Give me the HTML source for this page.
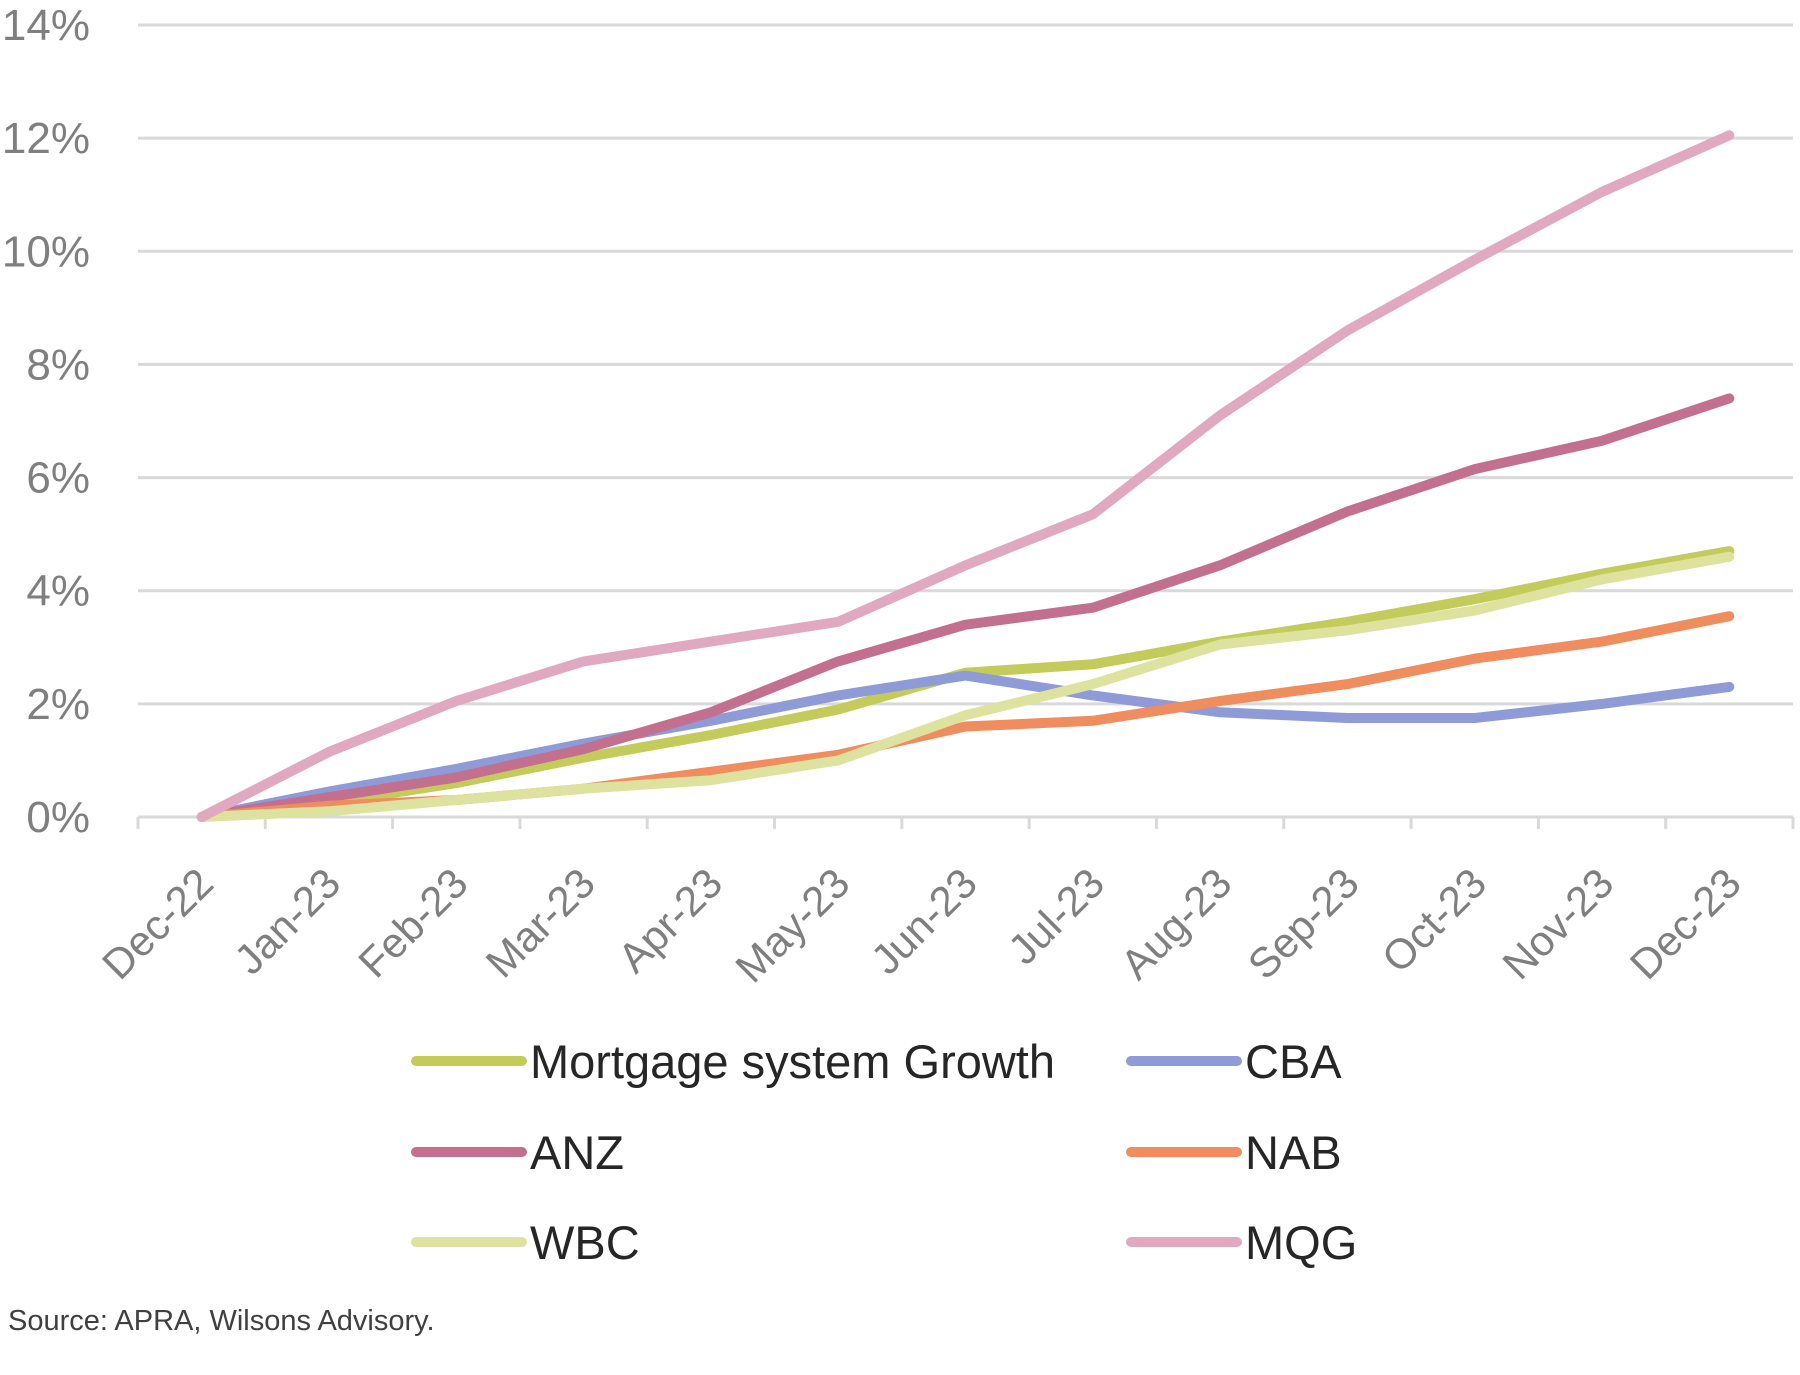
<!DOCTYPE html>
<html><head><meta charset="utf-8"><style>
html,body{margin:0;padding:0;background:#fff;}
svg text{font-family:"Liberation Sans",sans-serif;}
</style></head><body>
<svg id="chart" width="1800" height="1370" viewBox="0 0 1800 1370" xmlns="http://www.w3.org/2000/svg">
<g id="grid"></g>
<g id="yax"></g>
<g id="xax"></g>
<g id="series"></g>
<g id="legend"></g>
<text x="8" y="1330" font-size="29" fill="#404040">Source: APRA, Wilsons Advisory.</text>
</svg>
<script>
const categories=["Dec-22","Jan-23","Feb-23","Mar-23","Apr-23","May-23","Jun-23","Jul-23","Aug-23","Sep-23","Oct-23","Nov-23","Dec-23"];
const yTicks=[0,2,4,6,8,10,12,14];
const yTickLabels=["0%","2%","4%","6%","8%","10%","12%","14%"];
const seriesNames=["Mortgage system Growth","CBA","ANZ","NAB","WBC","MQG"];
const mortgage=[0,0.25,0.6,1.05,1.45,1.9,2.55,2.7,3.1,3.45,3.85,4.3,4.7];
const cba=[0,0.45,0.85,1.3,1.7,2.15,2.5,2.15,1.85,1.75,1.75,2.0,2.3];
const anz=[0,0.35,0.7,1.2,1.85,2.75,3.4,3.7,4.45,5.4,6.15,6.65,7.4];
const nab=[0,0.2,0.3,0.5,0.8,1.1,1.6,1.7,2.05,2.35,2.8,3.1,3.55];
const wbc=[0,0.1,0.3,0.5,0.65,1.0,1.8,2.35,3.05,3.3,3.65,4.2,4.6];
const mqg=[0,1.15,2.05,2.75,3.1,3.45,4.45,5.35,7.1,8.6,9.85,11.05,12.05];

const NS="http://www.w3.org/2000/svg";
const L=138,R=1793,T=25,B=817;
const bw=(R-L)/categories.length;
const xPos=i=>L+(i+0.5)*bw;
const yPos=v=>B-(v/14)*(B-T);
function mk(tag,attrs,parent){const e=document.createElementNS(NS,tag);for(const k in attrs)e.setAttribute(k,attrs[k]);parent.appendChild(e);return e;}
const grid=document.getElementById('grid'),yax=document.getElementById('yax'),xax=document.getElementById('xax'),ser=document.getElementById('series'),leg=document.getElementById('legend');
yTicks.forEach((t,i)=>{
  if(t>0){const g=mk('line',{x1:L,x2:R,y1:yPos(t),y2:yPos(t),stroke:'#d9d9d9','stroke-width':3},grid);
  
  }
  const tx=mk('text',{x:90,y:yPos(t)+15,'text-anchor':'end','font-size':44,fill:'#7f7f7f'},yax);
  tx.textContent=yTickLabels[i];
  
  
});
const ax=mk('line',{x1:L,x2:R,y1:B,y2:B,stroke:'#d9d9d9','stroke-width':3},xax);


for(let i=0;i<=categories.length;i++){
  const tk=mk('line',{x1:L+i*bw,x2:L+i*bw,y1:B,y2:B+12,stroke:'#d9d9d9','stroke-width':3},xax);
  
  
}
categories.forEach((c,i)=>{
  const x=xPos(i)+14,y=B+69;
  const tx=mk('text',{x:x,y:y,'text-anchor':'end','font-size':42,fill:'#7f7f7f',transform:`rotate(-45 ${x} ${y})`},xax);
  tx.textContent=c;
  
  
});
const data=[mortgage,cba,anz,nab,wbc,mqg];
const colors=["#c3cc5a","#8f9bd6","#c3708f","#f08d5e","#dde39f","#e0a9bf"];
const keys=["mortgage","cba","anz","nab","wbc","mqg"];
data.forEach((arr,s)=>{
  const pts=arr.map((v,i)=>xPos(i).toFixed(1)+','+yPos(v).toFixed(1)).join(' ');
  const p=mk('polyline',{points:pts,fill:'none',stroke:colors[s],'stroke-width':10,'stroke-linejoin':'round','stroke-linecap':'round'},ser);
  
  
});
const legPos=[[416,1061],[1131,1061],[416,1152],[1131,1152],[416,1242],[1131,1242]];
const legOrder=[0,1,2,3,4,5];
legOrder.forEach((s,k)=>{
  const [x,y]=legPos[k];
  const g=mk('g',{},leg);
  
  
  mk('line',{x1:x,x2:x+106,y1:y,y2:y,stroke:colors[s],'stroke-width':10,'stroke-linecap':'round'},g);
  const t=mk('text',{x:x+114,y:y+17,'font-size':47,fill:'#262626'},g);
  t.textContent=seriesNames[s];
});
</script>
</body></html>
